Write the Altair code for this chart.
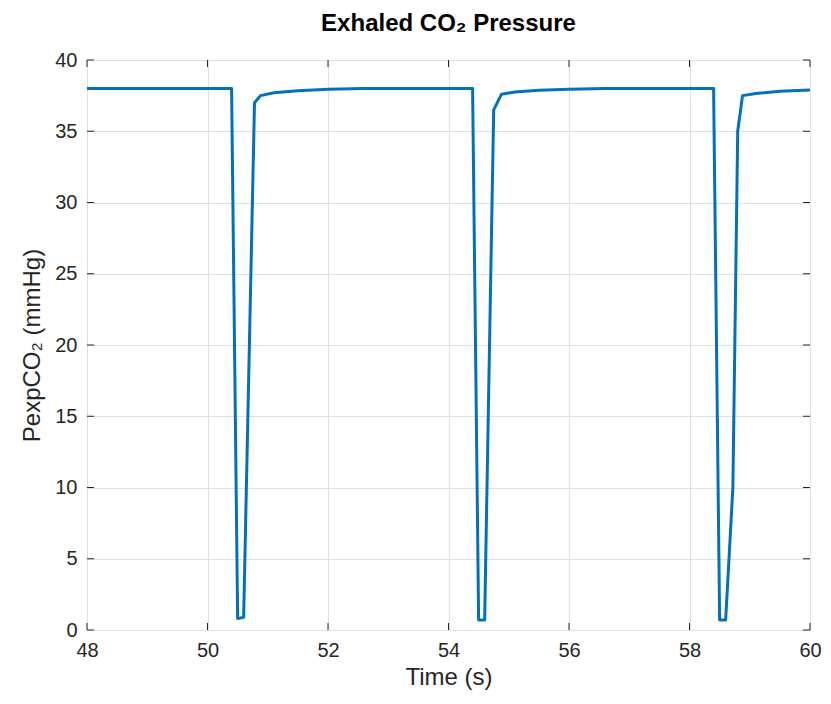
import altair as alt
import pandas as pd

time_s = [48.0, 50.40, 50.50, 50.60, 50.78, 50.88, 51.10, 51.50, 52.00, 52.60,
          54.40, 54.50, 54.60, 54.75, 54.88, 55.10, 55.50, 56.00, 56.60,
          58.40, 58.50, 58.60, 58.72, 58.80, 58.88, 59.10, 59.50, 60.00]
pexp_co2 = [38.0, 38.0, 0.8, 0.9, 37.0, 37.5, 37.7, 37.85, 37.95, 38.0,
            38.0, 0.7, 0.7, 36.5, 37.6, 37.75, 37.88, 37.95, 38.0,
            38.0, 0.7, 0.7, 10.0, 35.0, 37.5, 37.65, 37.8, 37.9]

x_ticks = [48, 50, 52, 54, 56, 58, 60]
y_ticks = [0, 5, 10, 15, 20, 25, 30, 35, 40]

df = pd.DataFrame({"t": time_s, "p": pexp_co2})
dfx = pd.DataFrame({"tx": x_ticks})
dfy = pd.DataFrame({"ty": y_ticks})

W, H = 723, 570
FONT = "Liberation Sans"
AX = "#262626"

xscale = alt.Scale(domain=[48, 60], nice=False)
yscale = alt.Scale(domain=[0, 40], nice=False)

line = alt.Chart(df).mark_line(color="#0072BD", strokeWidth=3, strokeJoin="round").encode(
    x=alt.X("t:Q", scale=xscale, title="Time (s)",
            axis=alt.Axis(values=x_ticks, format="d", grid=True, gridColor="#e0e0e0",
                          tickSize=0, domain=False, labelFlush=False,
                          labelFont=FONT, labelFontSize=20, labelColor=AX,
                          labelPadding=10, titleFont=FONT, titleFontSize=24,
                          titleFontWeight="normal", titleColor=AX, titlePadding=5)),
    y=alt.Y("p:Q", scale=yscale, title="PexpCO₂ (mmHg)",
            axis=alt.Axis(values=y_ticks, format="d", grid=True, gridColor="#e0e0e0",
                          tickSize=0, domain=False, labelFlush=False,
                          labelFont=FONT, labelFontSize=20, labelColor=AX,
                          labelPadding=10, titleFont=FONT, titleFontSize=24,
                          titleFontWeight="normal", titleColor=AX, titlePadding=10)),
)

tick_len = 7
xt_bottom = alt.Chart(dfx).mark_rule(color=AX, strokeWidth=1).encode(
    x=alt.X("tx:Q", scale=xscale), y=alt.value(H), y2=alt.value(H - tick_len))
xt_top = alt.Chart(dfx).mark_rule(color=AX, strokeWidth=1).encode(
    x=alt.X("tx:Q", scale=xscale), y=alt.value(0), y2=alt.value(tick_len))
yt_left = alt.Chart(dfy).mark_rule(color=AX, strokeWidth=1).encode(
    y=alt.Y("ty:Q", scale=yscale), x=alt.value(0), x2=alt.value(tick_len))
yt_right = alt.Chart(dfy).mark_rule(color=AX, strokeWidth=1).encode(
    y=alt.Y("ty:Q", scale=yscale), x=alt.value(W), x2=alt.value(W - tick_len))

chart = alt.layer(xt_bottom, xt_top, yt_left, yt_right, line).properties(
    width=W, height=H,
    title=alt.TitleParams("Exhaled CO₂ Pressure", font=FONT, fontSize=24,
                          fontWeight="bold", color="#000000", offset=14),
    autosize=alt.AutoSizeParams(type="none"),
    padding={"left": 79, "top": 52, "right": 12, "bottom": 66},
).configure_view(stroke=AX, strokeWidth=1).configure(background="white")

chart.save("out.html", embed_options={"renderer": "svg", "actions": False})
